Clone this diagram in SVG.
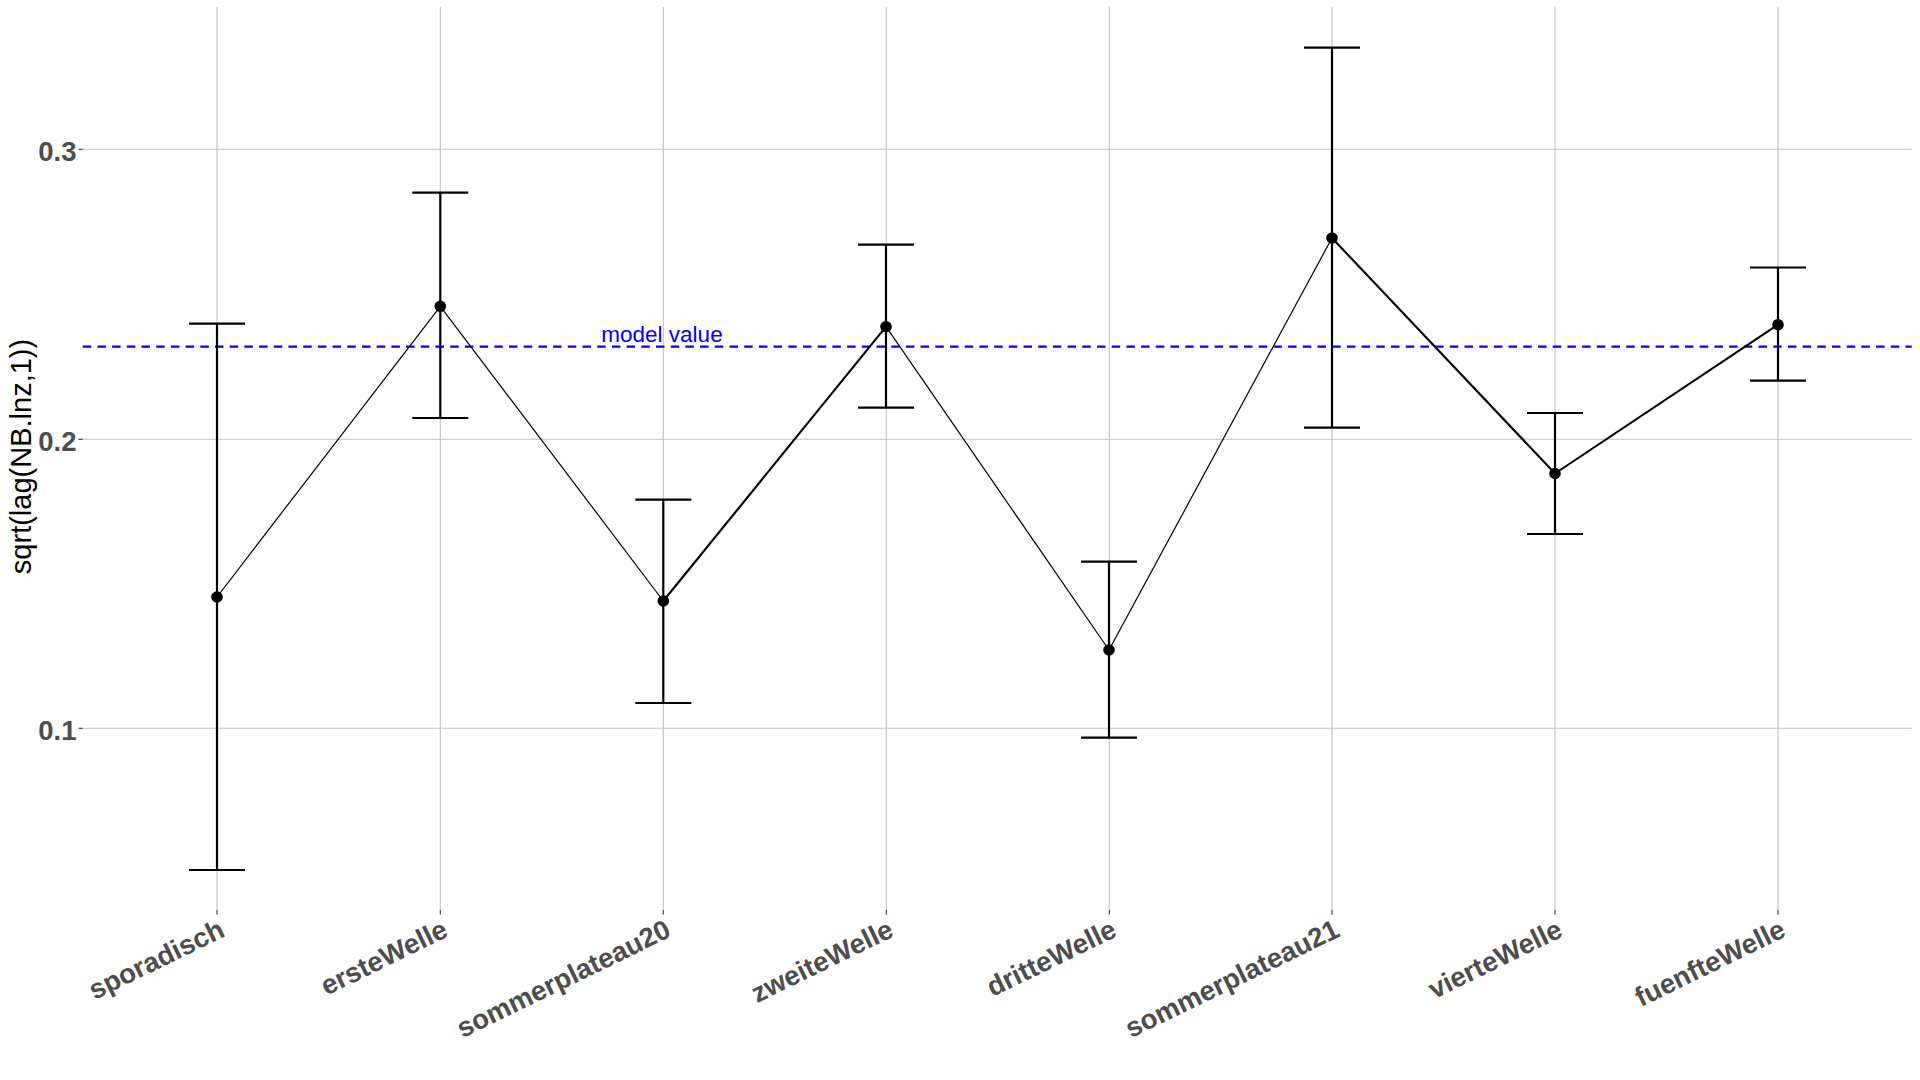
<svg xmlns="http://www.w3.org/2000/svg" width="1920" height="1080" viewBox="0 0 1920 1080">
<style>
.grid{stroke:#C2C2C2;stroke-width:1.1;fill:none}
.tick{stroke:#333333;stroke-width:1.1}
.ytl{font-family:"Liberation Sans",Arial,sans-serif;font-weight:bold;font-size:27.5px;fill:#4D4D4D;text-anchor:end}
.xtl{font-family:"Liberation Sans",Arial,sans-serif;font-weight:bold;font-size:27.5px;fill:#4D4D4D;text-anchor:end}
.ttl{font-family:"Liberation Sans",Arial,sans-serif;font-size:29px;fill:#000000;text-anchor:middle}
.eb{stroke:#000;stroke-width:2.2;fill:none}
.thin{stroke:#000;stroke-width:1.2;fill:none}
.thick{stroke:#000;stroke-width:2.1;fill:none}
.pt{fill:#000}
.model{stroke:#0000FF;stroke-width:2.3;stroke-dasharray:8.5 6.2;fill:none}
.mlab{font-family:"Liberation Sans",Arial,sans-serif;font-size:22.5px;fill:#0000FF;text-anchor:middle}
</style>
<rect width="1920" height="1080" fill="#FFFFFF"/>
<g id="grid">
<line class="grid" x1="82.7" y1="149.3" x2="1911.7" y2="149.3"/>
<line class="grid" x1="82.7" y1="439.3" x2="1911.7" y2="439.3"/>
<line class="grid" x1="82.7" y1="728.3" x2="1911.7" y2="728.3"/>
<line class="grid" x1="217" y1="7" x2="217" y2="910"/>
<line class="grid" x1="440.3" y1="7" x2="440.3" y2="910"/>
<line class="grid" x1="663.3" y1="7" x2="663.3" y2="910"/>
<line class="grid" x1="886.3" y1="7" x2="886.3" y2="910"/>
<line class="grid" x1="1109.3" y1="7" x2="1109.3" y2="910"/>
<line class="grid" x1="1332" y1="7" x2="1332" y2="910"/>
<line class="grid" x1="1555" y1="7" x2="1555" y2="910"/>
<line class="grid" x1="1778" y1="7" x2="1778" y2="910"/>
</g>
<g id="ticks">
<line class="tick" x1="78.5" y1="149.3" x2="82.7" y2="149.3"/>
<line class="tick" x1="78.5" y1="439.3" x2="82.7" y2="439.3"/>
<line class="tick" x1="78.5" y1="728.3" x2="82.7" y2="728.3"/>
<line class="tick" x1="217" y1="910" x2="217" y2="914.5"/>
<line class="tick" x1="440.3" y1="910" x2="440.3" y2="914.5"/>
<line class="tick" x1="663.3" y1="910" x2="663.3" y2="914.5"/>
<line class="tick" x1="886.3" y1="910" x2="886.3" y2="914.5"/>
<line class="tick" x1="1109.3" y1="910" x2="1109.3" y2="914.5"/>
<line class="tick" x1="1332" y1="910" x2="1332" y2="914.5"/>
<line class="tick" x1="1555" y1="910" x2="1555" y2="914.5"/>
<line class="tick" x1="1778" y1="910" x2="1778" y2="914.5"/>
</g>
<g id="y-axis-labels">
<text class="ytl" x="76.5" y="160.7">0.3</text>
<text class="ytl" x="76.5" y="450.7">0.2</text>
<text class="ytl" x="76.5" y="739.7">0.1</text>
</g>
<text id="y-axis-title" class="ttl" transform="translate(31,456.5) rotate(-90)" x="0" y="0">sqrt(lag(NB.lnz,1))</text>
<g id="x-axis-labels">
<text class="xtl" transform="translate(226.3,935.7) rotate(-26)">sporadisch</text>
<text class="xtl" transform="translate(449.6,935.7) rotate(-26)">ersteWelle</text>
<text class="xtl" transform="translate(672.6,935.7) rotate(-26)">sommerplateau20</text>
<text class="xtl" transform="translate(895.3,935.7) rotate(-26)">zweiteWelle</text>
<text class="xtl" transform="translate(1118.3,935.7) rotate(-26)">dritteWelle</text>
<text class="xtl" transform="translate(1341.3,935.7) rotate(-26)">sommerplateau21</text>
<text class="xtl" transform="translate(1564.3,935.7) rotate(-26)">vierteWelle</text>
<text class="xtl" transform="translate(1787.3,935.7) rotate(-26)">fuenfteWelle</text>
</g>
<g id="model-value">
<line class="model" x1="82.7" y1="346.7" x2="1911.7" y2="346.7"/>
<text class="mlab" x="662" y="341.7">model value</text>
</g>
<g id="connectors">
<line class="thin" x1="217" y1="597" x2="440.3" y2="306.3"/>
<line class="thin" x1="440.3" y1="306.3" x2="663.3" y2="601"/>
<line class="thick" x1="663.3" y1="601" x2="886" y2="326.7"/>
<line class="thin" x1="886" y1="326.7" x2="1109" y2="650"/>
<line class="thin" x1="1109" y1="650" x2="1332" y2="238"/>
<line class="thick" x1="1332" y1="238" x2="1555" y2="473.5"/>
<line class="thick" x1="1555" y1="473.5" x2="1778" y2="324.7"/>
</g>
<g id="sporadisch">
<path class="eb" d="M189 323.7H245M217 323.7V870M189 870H245"/>
<circle class="pt" cx="217" cy="597" r="5.8"/>
</g>
<g id="ersteWelle">
<path class="eb" d="M412.3 192.7H468.3M440.3 192.7V418M412.3 418H468.3"/>
<circle class="pt" cx="440.3" cy="306.3" r="5.8"/>
</g>
<g id="sommerplateau20">
<path class="eb" d="M635.3 499.6H691.3M663.3 499.6V703M635.3 703H691.3"/>
<circle class="pt" cx="663.3" cy="601" r="5.8"/>
</g>
<g id="zweiteWelle">
<path class="eb" d="M858 244.7H914M886 244.7V407.7M858 407.7H914"/>
<circle class="pt" cx="886" cy="326.7" r="5.8"/>
</g>
<g id="dritteWelle">
<path class="eb" d="M1081 561.7H1137M1109 561.7V737.7M1081 737.7H1137"/>
<circle class="pt" cx="1109" cy="650" r="5.8"/>
</g>
<g id="sommerplateau21">
<path class="eb" d="M1304 47.7H1360M1332 47.7V427.7M1304 427.7H1360"/>
<circle class="pt" cx="1332" cy="238" r="5.8"/>
</g>
<g id="vierteWelle">
<path class="eb" d="M1527 413H1583M1555 413V534M1527 534H1583"/>
<circle class="pt" cx="1555" cy="473.5" r="5.8"/>
</g>
<g id="fuenfteWelle">
<path class="eb" d="M1750 267.5H1806M1778 267.5V380.7M1750 380.7H1806"/>
<circle class="pt" cx="1778" cy="324.7" r="5.8"/>
</g>
</svg>
